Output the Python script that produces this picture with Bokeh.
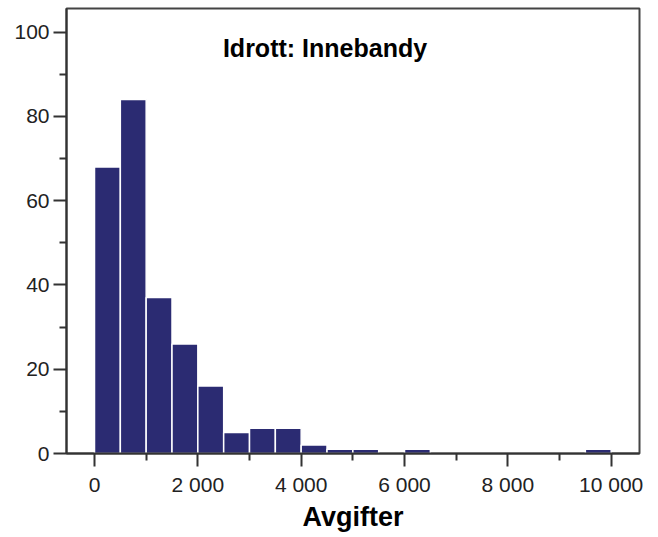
from bokeh.plotting import figure
from bokeh.models import FixedTicker, Label, Range1d, ColumnDataSource
from bokeh.embed import file_html
from bokeh.resources import INLINE

# Data
bin_edges = [0, 500, 1000, 1500, 2000, 2500, 3000, 3500, 4000, 4500, 5000,
             5500, 6000, 6500, 7000, 7500, 8000, 8500, 9000, 9500, 10000]
counts = [68, 84, 37, 26, 16, 5, 6, 6, 2, 1, 1, 0, 1, 0, 0, 0, 0, 0, 0, 1]
x_ticks = [0, 2000, 4000, 6000, 8000, 10000]
x_tick_labels = ["0", "2 000", "4 000", "6 000", "8 000", "10 000"]
x_minor = [1000, 3000, 5000, 7000, 9000]
y_ticks = [0, 20, 40, 60, 80, 100]
y_minor = [10, 30, 50, 70, 90]
title_text = "Idrott: Innebandy"
x_label = "Avgifter"

FONT = "Liberation Sans"
BAR = "#2b2b72"

src = ColumnDataSource(dict(left=bin_edges[:-1], right=bin_edges[1:],
                            top=counts, bottom=[0] * len(counts)))

p = figure(width=650, height=537, output_backend="svg", toolbar_location=None,
           x_range=Range1d(-542, 10548), y_range=Range1d(0, 105.6),
           frame_width=573, frame_height=445,
           min_border_left=66, min_border_right=11, min_border_top=8,
           min_border_bottom=84)
p.background_fill_color = "white"
p.border_fill_color = "white"
p.outline_line_color = "#444444"
p.outline_line_width = 2
p.xgrid.visible = False
p.ygrid.visible = False

p.quad(left="left", right="right", top="top", bottom="bottom", source=src,
       fill_color=BAR, line_color="white", line_width=1.5)

# x axis
xa = p.xaxis[0]
xa.ticker = FixedTicker(ticks=x_ticks, minor_ticks=x_minor)
xa.major_label_overrides = {t: l for t, l in zip(x_ticks, x_tick_labels)}
xa.axis_label = x_label
xa.axis_label_text_font = FONT
xa.axis_label_text_font_style = "bold"
xa.axis_label_text_font_size = "27px"
xa.axis_label_text_color = "black"
xa.axis_label_standoff = 3
xa.major_label_text_font = FONT
xa.major_label_text_font_size = "21px"
xa.major_label_text_color = "#222222"
xa.major_label_standoff = 6
xa.major_tick_out = 13
xa.major_tick_in = 0
xa.minor_tick_out = 7
xa.minor_tick_in = 0
xa.axis_line_color = "#333333"
xa.axis_line_width = 2
xa.major_tick_line_width = 2
xa.minor_tick_line_width = 2
xa.major_tick_line_color = "#333333"
xa.minor_tick_line_color = "#333333"

# y axis
ya = p.yaxis[0]
ya.ticker = FixedTicker(ticks=y_ticks, minor_ticks=y_minor)
ya.major_label_text_font = FONT
ya.major_label_text_font_size = "21px"
ya.major_label_text_color = "#222222"
ya.major_label_standoff = 4
ya.major_tick_out = 13
ya.major_tick_in = 0
ya.minor_tick_out = 7
ya.minor_tick_in = 0
ya.axis_line_color = "#333333"
ya.axis_line_width = 2
ya.major_tick_line_width = 2
ya.minor_tick_line_width = 2
ya.major_tick_line_color = "#333333"
ya.minor_tick_line_color = "#333333"

p.add_layout(Label(x=4461, y=96.2, text=title_text, text_align="center",
                   text_baseline="alphabetic", text_font=FONT,
                   text_font_style="bold", text_font_size="25px",
                   text_color="black"))

open("out.html", "w").write(file_html(p, INLINE))
